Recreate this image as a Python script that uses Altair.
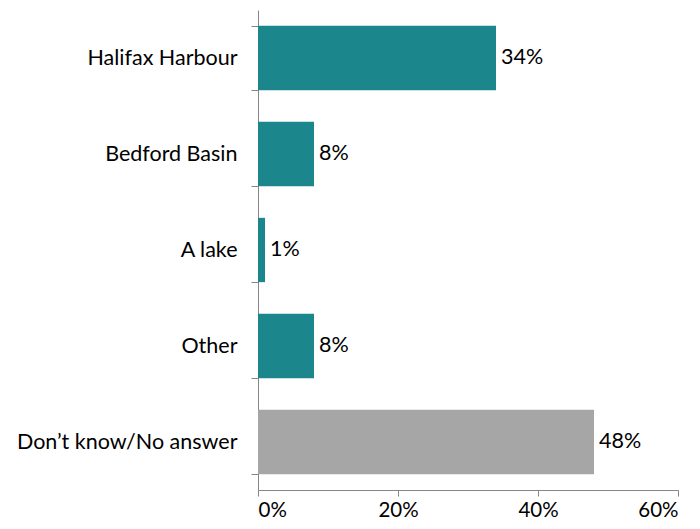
import altair as alt
import pandas as pd

categories = ["Halifax Harbour", "Bedford Basin", "A lake", "Other", "Don\u2019t know/No answer"]
values = [34, 8, 1, 8, 48]
groups = ["main", "main", "main", "main", "dk"]
x_ticks = [0, 20, 40, 60]

df = pd.DataFrame({"cat": categories, "val": values, "grp": groups})
df["label"] = df["val"].astype(str) + "%"

FONT = "Lato"

y = alt.Y("cat:N", sort=categories, title=None,
          scale=alt.Scale(paddingInner=0.33, paddingOuter=0.165),
          axis=alt.Axis(tickBand="extent", labelFontSize=21.5, labelFont=FONT,
                        labelColor="#000000", labelPadding=14, domainColor="#868686",
                        tickColor="#868686", tickSize=7, labelLimit=300))
x = alt.X("val:Q", title=None,
          scale=alt.Scale(domain=[0, 60], nice=False),
          axis=alt.Axis(values=x_ticks, labelExpr="datum.value + '%'", grid=False,
                        labelFontSize=20.5, labelFont=FONT, labelColor="#000000",
                        labelPadding=4, domainColor="#868686", tickColor="#868686",
                        tickSize=6))

bars = alt.Chart(df).mark_bar().encode(
    x=x, y=y,
    color=alt.Color("grp:N", scale=alt.Scale(domain=["main", "dk"], range=["#1B868C", "#A6A6A6"]), legend=None),
)
text = alt.Chart(df).mark_text(align="left", baseline="middle", dx=5, fontSize=21.5, font=FONT, color="#000000").encode(
    x="val:Q", y=alt.Y("cat:N", sort=categories), text="label:N"
)

chart = (bars + text).properties(
    width=420, height=480,
    autosize=alt.AutoSizeParams(type="none"),
    padding={"left": 250, "top": 2, "right": 14, "bottom": 31},
    background="#ffffff",
).configure_view(stroke=None)

chart.save("out.html", embed_options={"renderer": "svg", "actions": False})
